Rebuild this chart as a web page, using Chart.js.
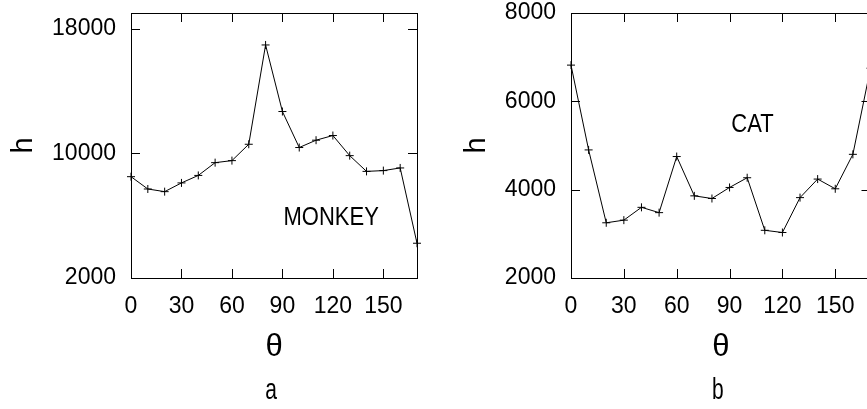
<!DOCTYPE html>
<html>
<head>
<meta charset="utf-8">
<script src="https://cdn.jsdelivr.net/npm/chart.js@4.4.1/dist/chart.umd.min.js"></script>
<style>
html, body { margin: 0; padding: 0; background: #fff; overflow: hidden; width: 867px; height: 409px; }
.panel { position: absolute; top: 0; width: 440px; height: 409px; }
#panelA { left: 0; }
#panelB { left: 450px; }
</style>
</head>
<body>
<div class="panel" id="panelA"><canvas id="MonkeyChart" width="440" height="409"></canvas></div>
<div class="panel" id="panelB"><canvas id="CatChart" width="440" height="409"></canvas></div>
<script>
const theta = [0, 10, 20, 30, 40, 50, 60, 70, 80, 90, 100, 110, 120, 130, 140, 150, 160, 170];
const monkeyH = [8500, 7710, 7540, 8100, 8580, 9400, 9530, 10580, 16950, 12680, 10370, 10840, 11140, 9850, 8840, 8890, 9060, 4230];
const catH = [6820, 4900, 3250, 3310, 3600, 3480, 4750, 3860, 3800, 4050, 4270, 3080, 3030, 3820, 4240, 4020, 4800, 6750];

const thetaTicks = [0, 30, 60, 90, 120, 150];
const monkeyTicks = [2000, 10000, 18000];
const catTicks = [2000, 4000, 6000, 8000];

const FONT = "'Liberation Sans', Arial, Helvetica, sans-serif";

// box round the plot, ticks pointing inwards on all four sides
const frameTicks = {
	id: 'frameTicks',
	beforeDatasetsDraw(chart) {
		const {ctx, chartArea: a, scales} = chart;
		const len = 9;
		ctx.save();
		ctx.strokeStyle = '#000';
		ctx.lineWidth = 1;
		ctx.beginPath();
		scales.x.ticks.forEach(t => {
			const px = Math.round(scales.x.getPixelForValue(t.value)) + 0.5;
			ctx.moveTo(px, a.bottom); ctx.lineTo(px, a.bottom - len);
			ctx.moveTo(px, a.top); ctx.lineTo(px, a.top + len);
		});
		scales.y.ticks.forEach(t => {
			const py = Math.round(scales.y.getPixelForValue(t.value)) + 0.5;
			ctx.moveTo(a.left, py); ctx.lineTo(a.left + len, py);
			ctx.moveTo(a.right, py); ctx.lineTo(a.right - len, py);
		});
		ctx.stroke();
		ctx.strokeRect(Math.round(a.left) + 0.5, Math.round(a.top) + 0.5,
			Math.round(a.right - a.left), Math.round(a.bottom - a.top));
		ctx.restore();
	}
};

// animal name inside the plot and panel letter underneath (text is drawn taller than wide)
const panelText = {
	id: 'panelText',
	afterDraw(chart, args, opts) {
		const {ctx, chartArea: a, scales} = chart;
		ctx.save();
		ctx.fillStyle = '#000';
		ctx.textAlign = 'center';
		ctx.textBaseline = 'alphabetic';
		ctx.font = '22px ' + FONT;
		ctx.translate(scales.x.getPixelForValue(opts.x), scales.y.getPixelForValue(opts.y));
		ctx.scale(1, 1.17);
		ctx.fillText(opts.name, 0, 0);
		ctx.restore();

		ctx.save();
		ctx.fillStyle = '#000';
		ctx.textAlign = 'center';
		ctx.textBaseline = 'alphabetic';
		ctx.font = '21px ' + FONT;
		ctx.translate((a.left + a.right) / 2 - 3, 399);
		ctx.scale(1, 1.4);
		ctx.fillText(opts.letter, 0, 0);
		ctx.restore();
	}
};

function makeChart(id, values, yTicks, yMin, yMax, axisWidth, padRight, hPad, text) {
	return new Chart(document.getElementById(id), {
		type: 'line',
		data: {
			datasets: [{
				data: theta.map((t, i) => ({x: t, y: values[i]})),
				borderColor: '#000',
				borderWidth: 1,
				tension: 0,
				fill: false,
				clip: false,
				pointStyle: 'cross',
				pointRadius: 4,
				pointBorderWidth: 1,
				pointBorderColor: '#000'
			}]
		},
		options: {
			responsive: false,
			animation: false,
			layout: {padding: {top: 13, right: padRight, left: 0, bottom: 0}},
			plugins: {
				legend: {display: false},
				tooltip: {enabled: false},
				panelText: text
			},
			scales: {
				x: {
					type: 'linear',
					min: 0,
					max: 170,
					afterBuildTicks: s => { s.ticks = thetaTicks.map(v => ({value: v})); },
					afterFit: s => { s.height = 131; s.paddingLeft = 0; s.paddingRight = 0; },
					grid: {display: false, drawTicks: false},
					border: {display: false},
					ticks: {
						autoSkip: false, maxRotation: 0, padding: 17, color: '#000',
						callback: v => String(v),
						font: {family: FONT, size: 23, lineHeight: 1}
					},
					title: {
						display: true, text: 'θ', color: '#000',
						font: {family: FONT, size: 31, lineHeight: 1},
						padding: {top: 0, bottom: 46}
					}
				},
				y: {
					type: 'linear',
					min: yMin,
					max: yMax,
					afterBuildTicks: s => { s.ticks = yTicks.map(v => ({value: v})); },
					afterFit: s => { s.width = axisWidth; s.paddingTop = 0; s.paddingBottom = 0; },
					grid: {display: false, drawTicks: false},
					border: {display: false},
					ticks: {
						autoSkip: false, padding: 15, color: '#000',
						callback: v => String(v),
						font: {family: FONT, size: 23, lineHeight: 1}
					},
					title: {
						display: true, text: 'h', color: '#000',
						font: {family: FONT, size: 29, lineHeight: 1},
						padding: {top: hPad, bottom: 0}
					}
				}
			}
		},
		plugins: [frameTicks, panelText]
	});
}

let MonkeyChart = makeChart('MonkeyChart', monkeyH, monkeyTicks, 2000, 19000, 131, 23, 9.5,
	{name: 'MONKEY', x: 119, y: 5400, letter: 'a'});
let CatChart = makeChart('CatChart', catH, catTicks, 2000, 8000, 121, 19.5, 12.5,
	{name: 'CAT', x: 103, y: 5300, letter: 'b'});
</script>
</body>
</html>
